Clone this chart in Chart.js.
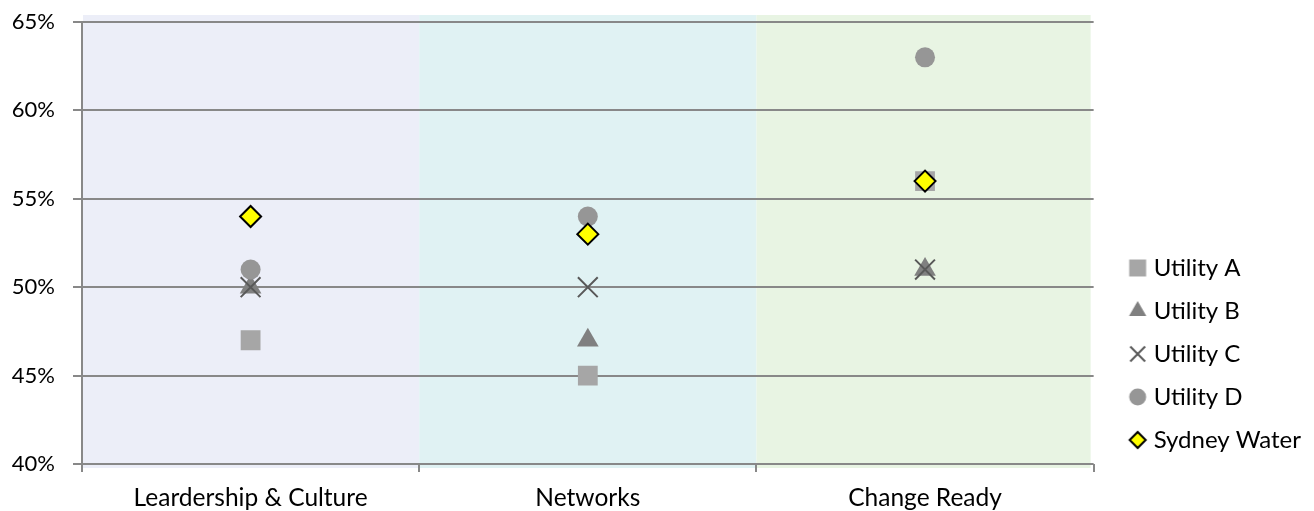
<!DOCTYPE html>
<html>
<head>
<meta charset="utf-8">
<script src="https://cdn.jsdelivr.net/npm/chart.js@4/dist/chart.umd.min.js"></script>
<style>
  html, body { margin: 0; padding: 0; background: #ffffff; }
  #wrap { width: 1314px; height: 511px; position: relative; }
</style>
</head>
<body>
<div id="wrap"><canvas id="c"></canvas></div>
<script>
// ---- data ----
const categories = ['Leardership & Culture', 'Networks', 'Change Ready'];
const utilityA = [0.47, 0.45, 0.56];
const utilityB = [0.50, 0.47, 0.51];
const utilityC = [0.50, 0.50, 0.51];
const utilityD = [0.51, 0.54, 0.63];
const sydneyWater = [0.54, 0.53, 0.56];
const seriesNames = ['Utility A', 'Utility B', 'Utility C', 'Utility D', 'Sydney Water'];
const yTicks = [0.40, 0.45, 0.50, 0.55, 0.60, 0.65];
const bandColors = ['#ECEEF8', '#E0F2F3', '#E8F4E3'];

const FONT = 'Lato, Calibri, Carlito, sans-serif';
const GRID = '#888888';

function legendMarker(style, radius, fill, stroke, bw) {
  const size = 28;
  const c = document.createElement('canvas');
  c.width = size; c.height = size;
  const ctx = c.getContext('2d');
  ctx.fillStyle = fill; ctx.strokeStyle = stroke; ctx.lineWidth = bw;
  Chart.helpers.drawPoint(ctx, {pointStyle: style, radius: radius, borderWidth: bw, rotation: 0}, size / 2, size / 2);
  return c;
}

const styles = [
  {pointStyle: 'rect', radius: 14, bg: '#A6A6A6', border: '#A6A6A6', bw: 0, lr: 12},
  {pointStyle: 'triangle', radius: 12.5, bg: '#808080', border: '#808080', bw: 0, lr: 10},
  {pointStyle: 'crossRot', radius: 14, bg: '#595959', border: '#595959', bw: 2, lr: 10.5},
  {pointStyle: 'circle', radius: 10, bg: '#969696', border: '#969696', bw: 0, lr: 8.5},
  {pointStyle: 'rectRot', radius: 10.5, bg: '#FFFF00', border: '#000000', bw: 2, lr: 8}
];
const values = [utilityA, utilityB, utilityC, utilityD, sydneyWater];
let legendIcons = null;

const datasets = values.map((v, i) => ({
  label: seriesNames[i],
  data: v,
  showLine: false,
  pointStyle: styles[i].pointStyle,
  pointRadius: styles[i].radius,
  pointHoverRadius: styles[i].radius,
  pointBackgroundColor: styles[i].bg,
  pointBorderColor: styles[i].border,
  pointBorderWidth: styles[i].bw,
  backgroundColor: styles[i].bg,
  borderColor: styles[i].border,
  order: values.length - i
}));

const bandPlugin = {
  id: 'bands',
  beforeDraw(chart) {
    const {ctx, chartArea, scales} = chart;
    const x = scales.x;
    const half = (x.getPixelForValue(1) - x.getPixelForValue(0)) / 2;
    ctx.save();
    categories.forEach((c, i) => {
      const cx = x.getPixelForValue(i);
      let l = cx - half, r = cx + half;
      if (i === 0) l = chartArea.left + 1;
      if (i === categories.length - 1) r = chartArea.right - 3;
      ctx.fillStyle = bandColors[i];
      ctx.fillRect(l, chartArea.top - 7, r - l, chartArea.bottom - chartArea.top + 11);
    });
    ctx.restore();
  }
};

new Chart(document.getElementById('c'), {
  type: 'line',
  data: { labels: categories, datasets: datasets },
  plugins: [bandPlugin],
  options: {
    responsive: true,
    maintainAspectRatio: false,
    animation: false,
    layout: { padding: { top: 22, right: 3, bottom: 0, left: 0 } },
    plugins: {
      tooltip: { enabled: false },
      legend: {
        position: 'right',
        align: 'start',
        title: { display: true, text: ' ', font: { size: 1, lineHeight: 1 }, padding: { top: 214, bottom: 0 } },
        labels: {
          usePointStyle: true,
          boxWidth: 8,
          boxHeight: 8,
          padding: 19,
          color: '#000000',
          font: { family: FONT, size: 24 },
          sort: (a, b) => a.datasetIndex - b.datasetIndex,
          generateLabels(chart) {
            if (!legendIcons) {
              legendIcons = styles.map(s => legendMarker(s.pointStyle, s.lr, s.bg, s.border, s.bw));
            }
            const items = Chart.defaults.plugins.legend.labels.generateLabels(chart);
            items.forEach(it => { it.pointStyle = legendIcons[it.datasetIndex]; });
            return items;
          }
        }
      }
    },
    scales: {
      x: {
        type: 'category',
        offset: true,
        grid: { offset: true, drawOnChartArea: false, drawTicks: true, tickLength: 8, color: GRID, lineWidth: 2 },
        border: { display: false },
        ticks: { color: '#000000', font: { family: FONT, size: 24.5 }, padding: 11, maxRotation: 0 },
        afterFit(s) { s.height = 47; }
      },
      y: {
        min: 0.40,
        max: 0.65,
        afterBuildTicks(s) { s.ticks = yTicks.map(v => ({value: v})); },
        grid: { color: GRID, lineWidth: 2, tickLength: 9 },
        border: { display: true, color: GRID, width: 2 },
        ticks: {
          color: '#000000',
          font: { family: FONT, size: 22 },
          padding: 18,
          callback: v => Math.round(v * 100) + '%'
        },
        afterFit(s) { s.width = 82; s.paddingTop = 0; s.paddingBottom = 0; }
      },
      y2: {
        type: 'linear',
        position: 'right',
        display: true,
        grid: { display: false, drawTicks: false },
        border: { display: false },
        ticks: { display: false },
        afterFit(s) { s.width = 21; s.paddingTop = 0; s.paddingBottom = 0; }
      }
    }
  }
});
</script>
</body>
</html>
